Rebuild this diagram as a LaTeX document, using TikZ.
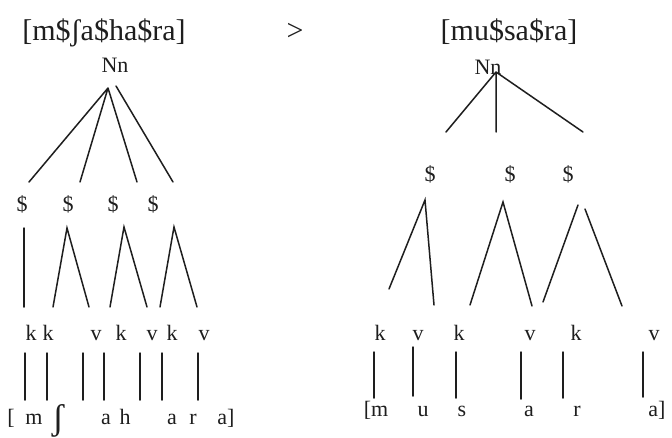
\documentclass[tikz,border=0pt]{standalone}
\usepackage{fontspec}
\setmainfont{Liberation Serif}
\definecolor{ink}{HTML}{1E1E1E}
\tikzset{
  lbl/.style={font=\fontsize{22}{26}\selectfont, inner sep=0pt, anchor=base, text=ink},
  ttl/.style={font=\fontsize{30}{36}\selectfont, inner sep=0pt, anchor=base, text=ink},
  bigsh/.style={font=\fontsize{36}{42}\selectfont, inner sep=0pt, anchor=base, text=ink},
  br/.style={line width=1.5pt, draw=ink, line cap=round}
}
\begin{document}
\begin{tikzpicture}[x=1pt,y=-1pt]
\useasboundingbox[fill=white] (0,0) rectangle (672,437);
% ---------- titles ----------
\node[ttl] (ltitle) at (104,40) {[m\$ʃa\$ha\$ra]};
\node[ttl] (gt) at (295,40) {>};
\node[ttl] (rtitle) at (509,40) {[mu\$sa\$ra]};
% ---------- left tree ----------
\node[lbl] (lNn) at (115,72) {Nn};
\coordinate (lA) at (108,88);
\coordinate (lA2) at (116,86);
\coordinate (lS1t) at (29,182);
\coordinate (lS2t) at (80,182);
\coordinate (lS3t) at (137,182);
\coordinate (lS4t) at (173,182);
\draw[br] (lA) -- (lS1t) (lA) -- (lS2t) (lA) -- (lS3t) (lA2) -- (lS4t);
\node[lbl] (lS1) at (22,211) {\$};
\node[lbl] (lS2) at (68,211) {\$};
\node[lbl] (lS3) at (113,211) {\$};
\node[lbl] (lS4) at (153,211) {\$};
% syllable branches
\coordinate (lB1) at (24,228);  \coordinate (lB1e) at (24,307);
\coordinate (lB2) at (67,228);  \coordinate (lB2a) at (53,307); \coordinate (lB2b) at (89,307);
\coordinate (lB3) at (124,227); \coordinate (lB3a) at (110,307); \coordinate (lB3b) at (147,307);
\coordinate (lB4) at (174,227); \coordinate (lB4a) at (160,307); \coordinate (lB4b) at (197,307);
\draw[br] (lB1) -- (lB1e);
\draw[br] (lB2a) -- (lB2) -- (lB2b);
\draw[br] (lB3a) -- (lB3) -- (lB3b);
\draw[br] (lB4a) -- (lB4) -- (lB4b);
% CV tier
\node[lbl] (lk1) at (31,340) {k};
\node[lbl] (lk2) at (48,340) {k};
\node[lbl] (lv1) at (96,340) {v};
\node[lbl] (lk3) at (121,340) {k};
\node[lbl] (lv2) at (152,340) {v};
\node[lbl] (lk4) at (172,340) {k};
\node[lbl] (lv3) at (204,340) {v};
% association lines
\foreach \n/\x in {1/25,2/47,3/83,4/104,5/140,6/162,7/198}{
  \coordinate (lT\n) at (\x,353);
  \coordinate (lU\n) at (\x,400);
  \draw[br] (lT\n) -- (lU\n);
}
% segments
\node[lbl] (lsb) at (11,424) {[};
\node[lbl] (lsm) at (34,424) {m};
\node[bigsh] (lssh) at (58,429) {ʃ};
\node[lbl] (lsa1) at (106,424) {a};
\node[lbl] (lsh) at (125,424) {h};
\node[lbl] (lsa2) at (172,424) {a};
\node[lbl] (lsr) at (193,424) {r};
\node[lbl] (lsa3) at (226,424) {a]};
% ---------- right tree ----------
\node[lbl] (rNn) at (488,74) {Nn};
\coordinate (rA) at (496,72);
\coordinate (rS1t) at (446,132);
\coordinate (rS2t) at (496,132);
\coordinate (rS3t) at (583,132);
\draw[br] (rA) -- (rS1t) (rA) -- (rS2t) (rA) -- (rS3t);
\node[lbl] (rS1) at (430,181) {\$};
\node[lbl] (rS2) at (510,181) {\$};
\node[lbl] (rS3) at (568,181) {\$};
\coordinate (rB1) at (425,200); \coordinate (rB1a) at (389,289); \coordinate (rB1b) at (434,305);
\coordinate (rB2) at (503,202); \coordinate (rB2a) at (470,305); \coordinate (rB2b) at (532,306);
\coordinate (rB3) at (578,205); \coordinate (rB3a) at (543,302);
\coordinate (rB3c) at (585,209); \coordinate (rB3b) at (622,306);
\draw[br] (rB1a) -- (rB1) -- (rB1b);
\draw[br] (rB2a) -- (rB2) -- (rB2b);
\draw[br] (rB3a) -- (rB3);
\draw[br] (rB3c) -- (rB3b);
% CV tier
\node[lbl] (rk1) at (380,340) {k};
\node[lbl] (rv1) at (418,340) {v};
\node[lbl] (rk2) at (459,340) {k};
\node[lbl] (rv2) at (530,340) {v};
\node[lbl] (rk3) at (576,340) {k};
\node[lbl] (rv3) at (654,340) {v};
\foreach \n/\x/\t/\b in {1/374/352/398,2/413/347/396,3/456/352/398,4/521/352/399,5/563/352/398,6/643/352/397}{
  \coordinate (rT\n) at (\x,\t);
  \coordinate (rU\n) at (\x,\b);
  \draw[br] (rT\n) -- (rU\n);
}
% segments
\node[lbl] (rsm) at (376,416) {[m};
\node[lbl] (rsu) at (423,416) {u};
\node[lbl] (rss) at (462,416) {s};
\node[lbl] (rsa1) at (529,416) {a};
\node[lbl] (rsr) at (577,416) {r};
\node[lbl] (rsa2) at (657,416) {a]};
\end{tikzpicture}
\end{document}
